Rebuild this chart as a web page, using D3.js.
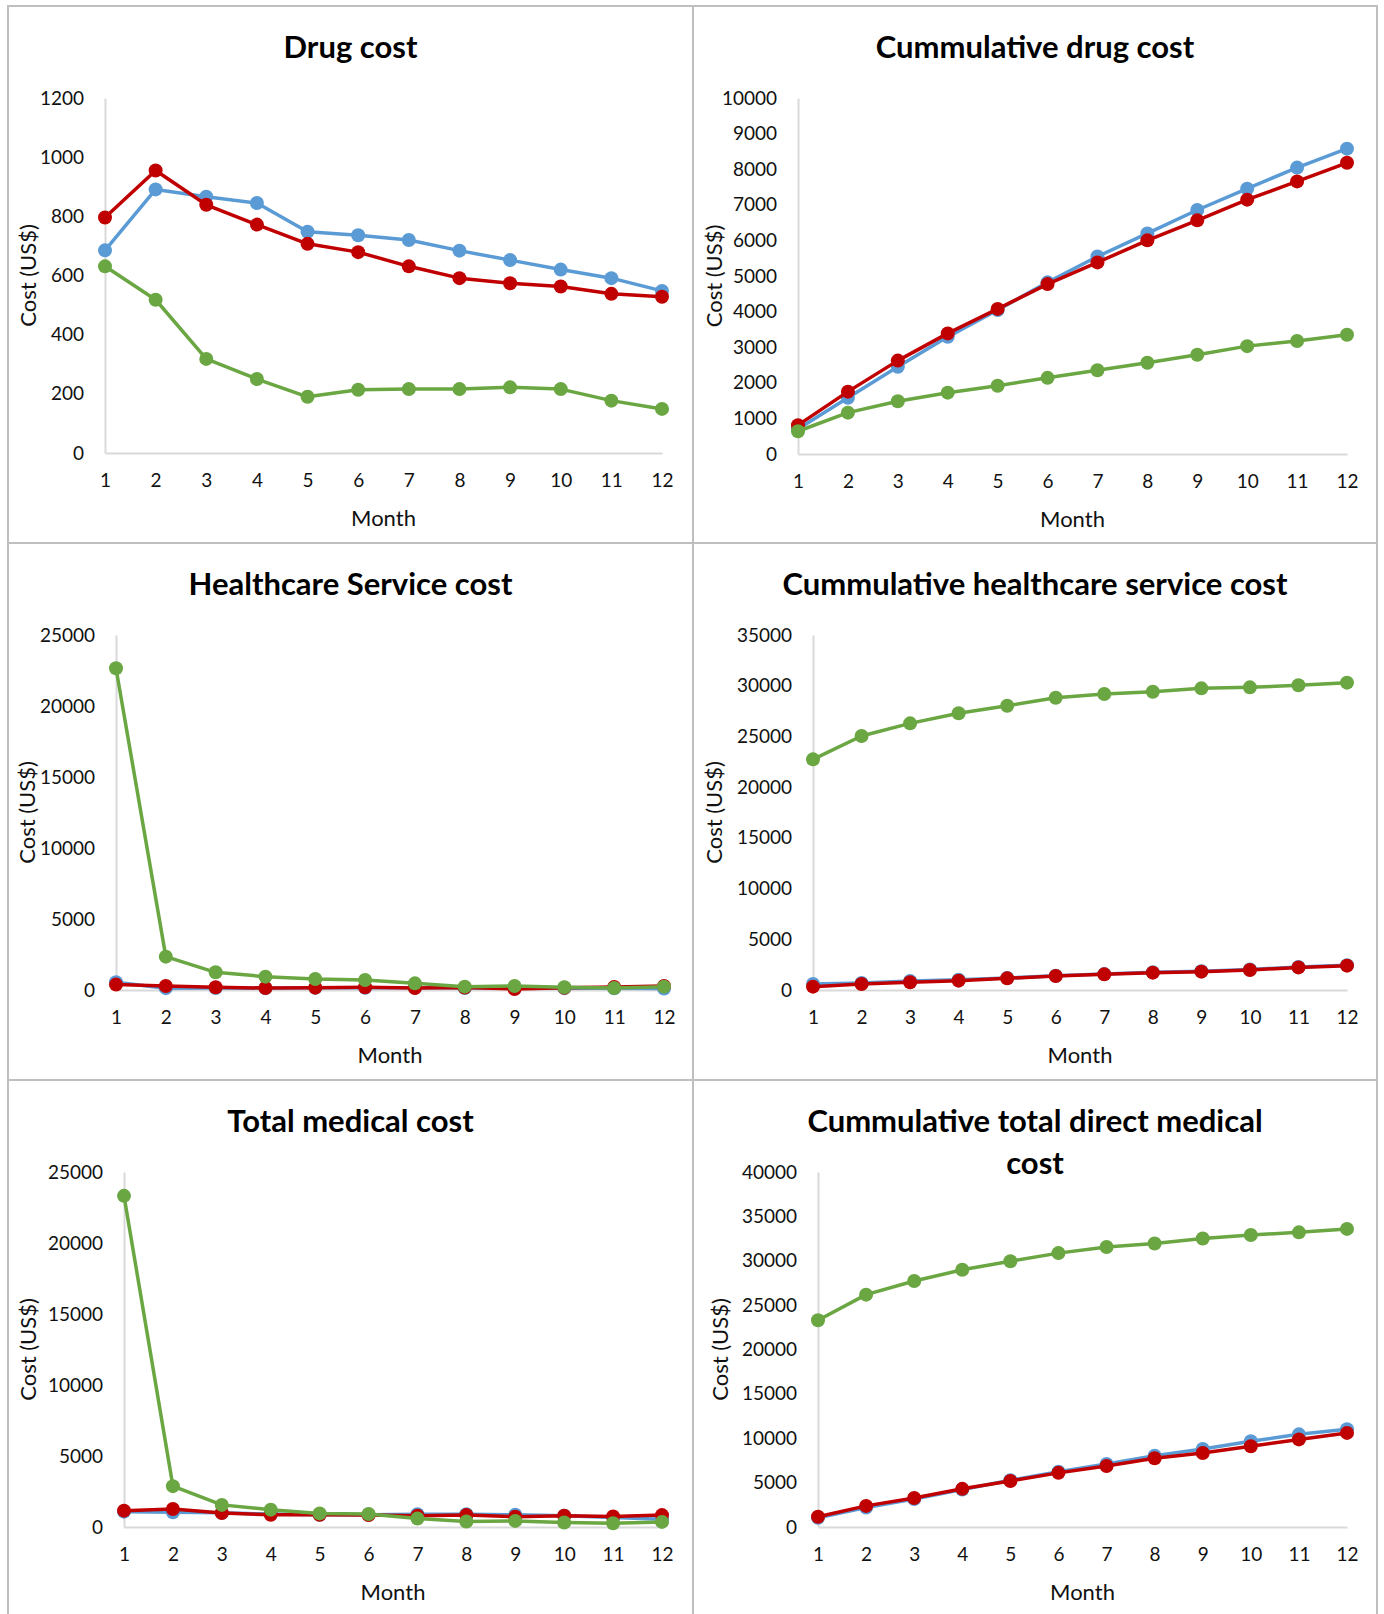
<!DOCTYPE html>
<html>
<head>
<meta charset="utf-8">
<script src="https://cdn.jsdelivr.net/npm/d3@7"></script>
<style>
  body { margin: 0; background: #fff; }
</style>
</head>
<body>
<div id="chart"></div>
<script>
// months on the x axis
const months = [1, 2, 3, 4, 5, 6, 7, 8, 9, 10, 11, 12]

// drug cost per month
const drugBlue = [685, 891, 866, 845, 748, 736, 720, 684, 652, 620, 591, 548]
const drugRed = [796, 955, 839, 772, 707, 679, 631, 591, 574, 563, 538, 528]
const drugGreen = [631, 518, 318, 250, 190, 214, 216, 216, 222, 216, 177, 149]

// cummulative drug cost
const cumDrugBlue = [700, 1578, 2449, 3291, 4046, 4821, 5547, 6196, 6854, 7454, 8045, 8577]
const cumDrugRed = [810, 1752, 2623, 3388, 4076, 4772, 5382, 6002, 6563, 7144, 7657, 8180]
const cumDrugGreen = [639, 1162, 1481, 1723, 1917, 2139, 2352, 2565, 2788, 3030, 3175, 3350]

// healthcare service cost per month
const hcBlue = [550, 130, 140, 130, 150, 160, 150, 140, 120, 130, 120, 110]
const hcRed = [380, 280, 190, 140, 165, 190, 140, 180, 70, 150, 210, 280]
const hcGreen = [22660, 2350, 1245, 940, 775, 705, 470, 235, 280, 190, 140, 235]

// cummulative healthcare service cost
const cumHcBlue = [590, 700, 880, 1020, 1180, 1400, 1570, 1740, 1860, 2020, 2270, 2450]
const cumHcRed = [330, 590, 760, 920, 1150, 1380, 1545, 1710, 1810, 1970, 2230, 2400]
const cumHcGreen = [22740, 25040, 26290, 27280, 28030, 28820, 29180, 29410, 29740, 29840, 30040, 30300]

// total medical cost per month
const totBlue = [1080, 1030, 1000, 910, 860, 860, 900, 900, 860, 790, 670, 550]
const totRed = [1150, 1270, 983, 863, 863, 839, 791, 839, 719, 791, 743, 839]
const totGreen = [23320, 2876, 1558, 1222, 959, 911, 600, 383, 431, 312, 264, 360]

// cummulative total direct medical cost
const cumTotBlue = [1040, 2190, 3150, 4220, 5260, 6220, 7100, 8020, 8790, 9670, 10440, 11020]
const cumTotRed = [1150, 2380, 3260, 4300, 5180, 6100, 6870, 7750, 8330, 9100, 9870, 10600]
const cumTotGreen = [23300, 26180, 27720, 28980, 29940, 30860, 31550, 31940, 32510, 32900, 33200, 33590]

// y tick labels
const ticksDrug = [0, 200, 400, 600, 800, 1000, 1200]
const ticksCumDrug = [0, 1000, 2000, 3000, 4000, 5000, 6000, 7000, 8000, 9000, 10000]
const ticks25k = [0, 5000, 10000, 15000, 20000, 25000]
const ticks35k = [0, 5000, 10000, 15000, 20000, 25000, 30000, 35000]
const ticks40k = [0, 5000, 10000, 15000, 20000, 25000, 30000, 35000, 40000]

const colors = ["#5b9bd5", "#c00000", "#6aa642"]
const font = "Lato, 'Open Sans', sans-serif"

const svg = d3.select("#chart").append("svg").attr("width", 1384).attr("height", 1614)
svg.append("rect").attr("width", 1384).attr("height", 1614).attr("fill", "#fff")

// panel layouts
const panels = [
  { title: ["Drug cost"], series: [drugBlue, drugRed, drugGreen], ticks: ticksDrug,
    box: [8, 6, 693, 543], x0: 105, x1: 662, y0: 453, y1: 98, lx: 20 },
  { title: ["Cummulative drug cost"], series: [cumDrugBlue, cumDrugRed, cumDrugGreen], ticks: ticksCumDrug,
    box: [693, 6, 1377, 543], x0: 798, x1: 1347, y0: 454, y1: 98, lx: 21 },
  { title: ["Healthcare Service cost"], series: [hcBlue, hcRed, hcGreen], ticks: ticks25k,
    box: [8, 543, 693, 1080], x0: 116, x1: 664, y0: 990, y1: 635, lx: 19 },
  { title: ["Cummulative healthcare service cost"], series: [cumHcBlue, cumHcRed, cumHcGreen], ticks: ticks35k,
    box: [693, 543, 1377, 1080], x0: 813, x1: 1347, y0: 990, y1: 635, lx: 21 },
  { title: ["Total medical cost"], series: [totBlue, totRed, totGreen], ticks: ticks25k,
    box: [8, 1080, 693, 1620], x0: 124, x1: 662, y0: 1527, y1: 1172, lx: 20 },
  { title: ["Cummulative total direct medical", "cost"], series: [cumTotBlue, cumTotRed, cumTotGreen], ticks: ticks40k,
    box: [693, 1080, 1377, 1620], x0: 818, x1: 1347, y0: 1527, y1: 1172, lx: 27 }
]

panels.forEach(p => {
  const g = svg.append("g")
  const [bx0, by0, bx1, by1] = p.box

  // panel frame
  g.append("rect").attr("x", bx0).attr("y", by0).attr("width", bx1 - bx0).attr("height", by1 - by0)
    .attr("fill", "none").attr("stroke", "#bfbfbf").attr("stroke-width", 2)

  const x = d3.scaleLinear().domain([1, 12]).range([p.x0, p.x1])
  const y = d3.scaleLinear().domain([0, d3.max(p.ticks)]).range([p.y0, p.y1])

  // title
  const cx = (bx0 + bx1) / 2
  p.title.forEach((t, i) => {
    g.append("text").attr("x", cx).attr("y", by0 + 52 + i * 42).attr("text-anchor", "middle")
      .attr("font-family", font).attr("font-weight", "bold").attr("font-size", 31).attr("fill", "#000").text(t)
  })

  // y axis
  const ya = g.append("g").attr("transform", `translate(${p.x0},0)`)
    .call(d3.axisLeft(y).tickValues(p.ticks).tickSize(0).tickPadding(21).tickFormat(d3.format("d")))
  ya.select(".domain").attr("stroke", "#d9d9d9").attr("stroke-width", 2)
  ya.selectAll("text").attr("font-family", font).attr("font-size", 19).attr("fill", "#111")

  // x axis
  const xa = g.append("g").attr("transform", `translate(0,${p.y0})`)
    .call(d3.axisBottom(x).tickValues(months).tickSize(0).tickPadding(21).tickFormat(d3.format("d")))
  xa.select(".domain").attr("stroke", "#d9d9d9").attr("stroke-width", 2)
  xa.selectAll("text").attr("font-family", font).attr("font-size", 19).attr("fill", "#111")

  // axis titles
  g.append("text").attr("x", (p.x0 + p.x1) / 2).attr("y", p.y0 + 73).attr("text-anchor", "middle")
    .attr("font-family", font).attr("font-size", 22).attr("fill", "#111").text("Month")
  g.append("text").attr("transform", `translate(${bx0 + p.lx},${(p.y0 + p.y1) / 2}) rotate(-90)`)
    .attr("text-anchor", "middle").attr("dy", "0.35em")
    .attr("font-family", font).attr("font-size", 22).attr("fill", "#111").text("Cost (US$)")

  // series
  const line = d3.line().x((d, i) => x(months[i])).y(d => y(d))
  p.series.forEach((s, k) => {
    g.append("path").attr("d", line(s)).attr("fill", "none").attr("stroke", colors[k])
      .attr("stroke-width", 3.5).attr("stroke-linejoin", "round")
    g.selectAll(null).data(s).enter().append("circle")
      .attr("cx", (d, i) => x(months[i])).attr("cy", d => y(d)).attr("r", 7).attr("fill", colors[k])
  })
})
</script>
</body>
</html>
